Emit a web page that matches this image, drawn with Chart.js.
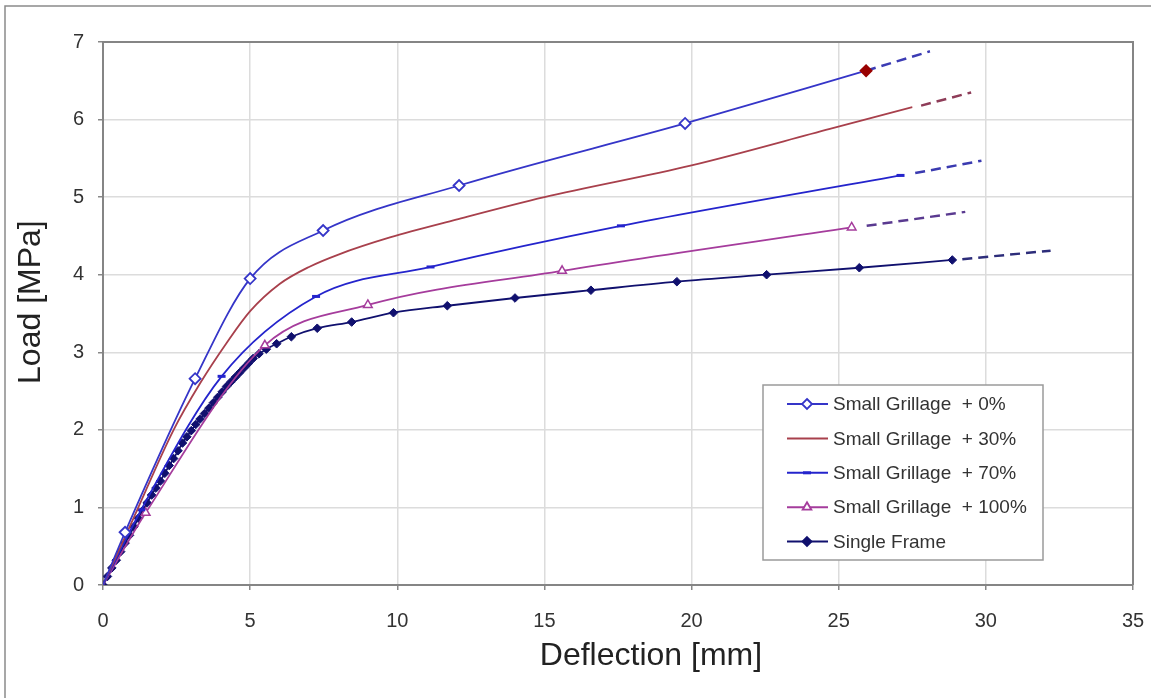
<!DOCTYPE html>
<html>
<head>
<meta charset="utf-8">
<script src="https://cdn.jsdelivr.net/npm/chart.js@4.4.1/dist/chart.umd.min.js"></script>
<style>
  html, body { margin: 0; padding: 0; background: #fff; }
  #wrap { position: relative; width: 1151px; height: 698px; }
</style>
</head>
<body>
<div id="wrap"><canvas id="chart" width="1151" height="698"></canvas></div>
<script>
// ---- data: deflection [mm] vs load [MPa] ----
const xTicks = [0, 5, 10, 15, 20, 25, 30, 35];
const yTicks = [0, 1, 2, 3, 4, 5, 6, 7];

const sg0X = [0, 0.75, 3.13, 5.0, 7.48, 12.1, 19.78, 25.93];
const sg0Y = [0, 0.68, 2.66, 3.95, 4.57, 5.15, 5.95, 6.63];
const sg0DashX = [25.93, 28.1];
const sg0DashY = [6.63, 6.88];

const sg30X = [0, 1.0, 2.4, 3.3, 4.2, 5.0, 6.0, 7.0, 8.0, 9.75, 12.0, 15.0, 20.0, 24.7, 27.5];
const sg30Y = [0, 0.83, 2.0, 2.6, 3.12, 3.53, 3.88, 4.1, 4.26, 4.48, 4.71, 5.0, 5.41, 5.88, 6.16];
const sg30DashX = [27.8, 29.5];
const sg30DashY = [6.18, 6.35];

const sg70X = [0, 1.3, 4.03, 7.24, 11.13, 17.6, 27.1];
const sg70Y = [0, 0.97, 2.69, 3.72, 4.1, 4.63, 5.28];
const sg70DashX = [27.6, 29.85];
const sg70DashY = [5.31, 5.47];

const sg100X = [0, 1.45, 5.5, 9.0, 15.6, 25.44];
const sg100Y = [0, 0.93, 3.09, 3.61, 4.05, 4.61];
const sg100DashX = [25.95, 29.3];
const sg100DashY = [4.63, 4.81];

const sfX = [0, 0.15, 0.3, 0.45, 0.6, 0.75, 0.9, 1.05, 1.2, 1.35, 1.5, 1.65, 1.8, 1.95,
  2.1, 2.25, 2.4, 2.55, 2.7, 2.85, 3.0, 3.15, 3.3, 3.45, 3.6, 3.75, 3.9, 4.05, 4.2, 4.35,
  4.5, 4.65, 4.8, 4.95, 5.1, 5.3, 5.55, 5.9, 6.4, 7.28, 8.45, 9.87, 11.7, 14.0, 16.58,
  19.5, 22.55, 25.7, 28.86];
const sfY = [0, 0.11, 0.22, 0.32, 0.43, 0.54, 0.64, 0.75, 0.86, 0.96, 1.06, 1.16, 1.25, 1.34,
  1.44, 1.54, 1.63, 1.73, 1.83, 1.91, 1.99, 2.07, 2.14, 2.21, 2.28, 2.35, 2.42, 2.49, 2.56, 2.62,
  2.68, 2.74, 2.8, 2.86, 2.92, 2.98, 3.04, 3.11, 3.2, 3.31, 3.39, 3.51, 3.6, 3.7, 3.8,
  3.91, 4.0, 4.09, 4.19];
const sfDashX = [29.2, 32.2];
const sfDashY = [4.2, 4.31];

const legendLabels = ['Small Grillage  + 0%', 'Small Grillage  + 30%', 'Small Grillage  + 70%',
  'Small Grillage  + 100%', 'Single Frame'];
const xTitle = 'Deflection [mm]';
const yTitle = 'Load [MPa]';

// ---- colours ----
const C0 = '#3535c8', C30 = '#a8404c', C70 = '#2424cc', C100 = '#a53c9c', CSF = '#10106e';
const fontFamily = '"Liberation Sans", Arial, sans-serif';

function pts(xs, ys) {
  return xs.map((x, i) => ({ x: x, y: ys[i] }));
}

function dashed(xs, ys, color) {
  return {
    data: pts(xs, ys),
    showLine: true,
    borderColor: color,
    borderWidth: 2.5,
    borderDash: [10, 6],
    pointRadius: 0,
    tension: 0
  };
}

// draw one legend marker by hand
function marker(ctx, style, x, y, r, fill, stroke, lw) {
  ctx.save();
  ctx.fillStyle = fill;
  ctx.strokeStyle = stroke;
  ctx.lineWidth = lw;
  ctx.beginPath();
  if (style === 'diamond') {
    ctx.moveTo(x, y - r); ctx.lineTo(x + r, y); ctx.lineTo(x, y + r); ctx.lineTo(x - r, y);
    ctx.closePath(); ctx.fill(); ctx.stroke();
  } else if (style === 'triangle') {
    ctx.moveTo(x, y - r); ctx.lineTo(x + r * 0.87, y + r * 0.5); ctx.lineTo(x - r * 0.87, y + r * 0.5);
    ctx.closePath(); ctx.fill(); ctx.stroke();
  } else if (style === 'dash') {
    ctx.moveTo(x - r, y); ctx.lineTo(x + r, y); ctx.stroke();
  }
  ctx.restore();
}

const legendItems = [
  { color: C0, style: 'diamond', fill: '#fff', r: 5 },
  { color: C30, style: null },
  { color: C70, style: 'dash', r: 4 },
  { color: C100, style: 'triangle', fill: '#fff', r: 5 },
  { color: CSF, style: 'diamond', fill: CSF, r: 4.5 }
];

const framePlugin = {
  id: 'frame',
  beforeDraw(chart) {
    const ctx = chart.ctx;
    ctx.save();
    ctx.strokeStyle = '#8a8a8a';
    ctx.lineWidth = 1.5;
    ctx.beginPath();
    ctx.moveTo(5, 700); ctx.lineTo(5, 6); ctx.lineTo(1160, 6);
    ctx.stroke();
    ctx.restore();
  },
  afterDraw(chart) {
    const ctx = chart.ctx;
    const a = chart.chartArea;
    ctx.save();
    // plot box top/right
    ctx.strokeStyle = '#858585';
    ctx.lineWidth = 2;
    ctx.beginPath();
    ctx.moveTo(a.left, a.top); ctx.lineTo(a.right, a.top); ctx.lineTo(a.right, a.bottom);
    ctx.stroke();

    // axis titles (sit a little off-centre in the original)
    ctx.fillStyle = '#222';
    ctx.font = '32px ' + fontFamily;
    ctx.textAlign = 'center';
    ctx.textBaseline = 'middle';
    ctx.fillText(xTitle, a.left + (a.right - a.left) * 0.532, a.bottom + 71);
    ctx.save();
    ctx.translate(31, a.top + (a.bottom - a.top) * 0.479);
    ctx.rotate(-Math.PI / 2);
    ctx.fillText(yTitle, 0, 0);
    ctx.restore();

    // legend box
    const bx = a.right - 370, by = a.bottom - 200, bw = 280, bh = 175;
    ctx.fillStyle = '#fff';
    ctx.fillRect(bx, by, bw, bh);
    ctx.strokeStyle = '#9a9a9a';
    ctx.lineWidth = 1.5;
    ctx.strokeRect(bx, by, bw, bh);
    ctx.font = '19px ' + fontFamily;
    ctx.textBaseline = 'middle';
    ctx.textAlign = 'left';
    legendItems.forEach((it, i) => {
      const y = by + 19 + i * 34.4;
      ctx.strokeStyle = it.color;
      ctx.lineWidth = 2;
      ctx.beginPath();
      ctx.moveTo(bx + 24, y); ctx.lineTo(bx + 65, y);
      ctx.stroke();
      if (it.style) marker(ctx, it.style, bx + 44, y, it.r, it.fill || it.color, it.color, it.style === 'dash' ? 3 : 1.8);
      ctx.fillStyle = '#333';
      ctx.fillText(legendLabels[i], bx + 70, y + 1);
    });
    ctx.restore();
  }
};

const lastIdx = sg0X.length - 1;
const smooth = { showLine: true, borderWidth: 1.8, cubicInterpolationMode: 'monotone' };

new Chart(document.getElementById('chart'), {
  type: 'scatter',
  data: {
    datasets: [
      {
        ...smooth, data: pts(sg0X, sg0Y), borderColor: C0,
        pointStyle: 'rectRot',
        pointRadius: c => (c.dataIndex === 0 ? 0 : 5.5),
        pointBackgroundColor: c => (c.dataIndex === lastIdx ? '#990000' : '#fff'),
        pointBorderColor: c => (c.dataIndex === lastIdx ? '#990000' : C0),
        pointBorderWidth: 1.8
      },
      { ...smooth, data: pts(sg30X, sg30Y), borderColor: C30, pointRadius: 0 },
      {
        ...smooth, data: pts(sg70X, sg70Y), borderColor: C70,
        pointStyle: 'line', pointRadius: c => (c.dataIndex === 0 ? 0 : 4),
        pointBorderColor: C70, pointBorderWidth: 3
      },
      {
        ...smooth, data: pts(sg100X, sg100Y), borderColor: C100,
        pointStyle: 'triangle', pointRadius: c => (c.dataIndex === 0 ? 0 : 5),
        pointBackgroundColor: '#fff', pointBorderColor: C100, pointBorderWidth: 1.5
      },
      {
        ...smooth, data: pts(sfX, sfY), borderColor: CSF,
        pointStyle: 'rectRot', pointRadius: 4.3,
        pointBackgroundColor: CSF, pointBorderColor: CSF, pointBorderWidth: 1
      },
      dashed(sg0DashX, sg0DashY, '#3c3cb4'),
      dashed(sg30DashX, sg30DashY, '#8e3c58'),
      dashed(sg70DashX, sg70DashY, '#3a3ab0'),
      dashed(sg100DashX, sg100DashY, '#5a3a90'),
      dashed(sfDashX, sfDashY, '#2d2d7a')
    ]
  },
  options: {
    responsive: false,
    animation: false,
    devicePixelRatio: 1,
    layout: { padding: { left: 0, right: 18, top: 42, bottom: 0 } },
    plugins: { legend: { display: false }, tooltip: { enabled: false } },
    scales: {
      x: {
        type: 'linear', min: 0, max: 35,
        afterFit: s => { s.height = 113; s.paddingLeft = 0; s.paddingRight = 0; },
        afterBuildTicks: s => { s.ticks = xTicks.map(v => ({ value: v })); },
        ticks: { color: '#333', font: { family: fontFamily, size: 20 }, padding: 19 },
        grid: { color: '#dcdcdc', lineWidth: 1.5, tickLength: 5, tickColor: '#888' },
        border: { color: '#858585', width: 2 },
        title: { display: false }
      },
      y: {
        type: 'linear', min: 0, max: 7,
        afterFit: s => { s.width = 103; s.paddingTop = 0; s.paddingBottom = 0; },
        afterBuildTicks: s => { s.ticks = yTicks.map(v => ({ value: v })); },
        ticks: { color: '#333', font: { family: fontFamily, size: 20 }, padding: 14 },
        grid: { color: '#dcdcdc', lineWidth: 1.5, tickLength: 5, tickColor: '#888' },
        border: { color: '#858585', width: 2 },
        title: { display: false }
      }
    }
  },
  plugins: [framePlugin]
});
</script>
</body>
</html>
